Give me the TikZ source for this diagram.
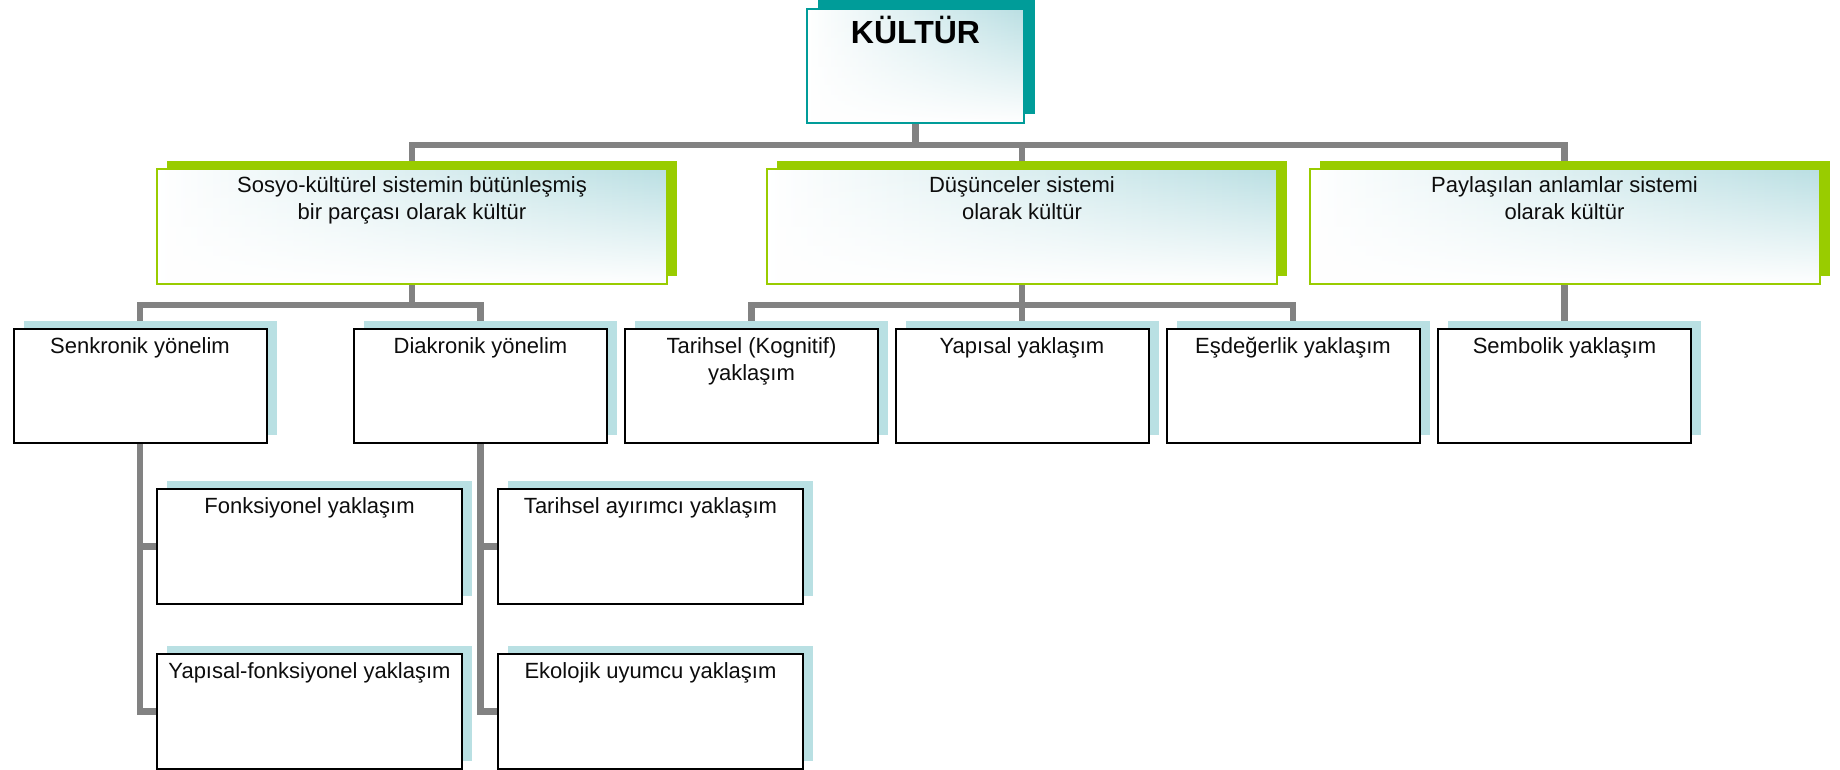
\documentclass[tikz,border=0pt]{standalone}
\usepackage{fontspec}
\setmainfont{Liberation Sans}
\usetikzlibrary{shadows,fadings}

\definecolor{connGray}{RGB}{130,130,130}
\definecolor{tealDark}{RGB}{0,156,153}
\definecolor{leafGreen}{RGB}{153,204,0}
\definecolor{paleBlue}{RGB}{185,224,227}
\definecolor{gradTeal}{RGB}{186,223,227}

% white wash that is clear at the top and solid at the bottom
\tikzfading[name=washup, top color=transparent!100, middle color=transparent!55, bottom color=transparent!0]

\pgfdeclarelayer{background}
\pgfsetlayers{background,main}

\begin{document}
\begin{tikzpicture}[x=1pt, y=-1pt,
  conn/.style={draw=connGray, line width=6.5pt, line join=miter},
  boxbase/.style={rectangle, anchor=north west, inner sep=0pt, line width=2pt},
  topbox/.style={boxbase, draw=tealDark, minimum width=217pt, minimum height=114pt,
    left color=white, right color=gradTeal,
    general shadow={fill=tealDark, shadow xshift=11pt, shadow yshift=9pt},
    postaction={fill=white, path fading=washup},
    postaction={draw=tealDark, line width=2pt}},
  midbox/.style={boxbase, draw=leafGreen, minimum width=510pt, minimum height=115pt,
    left color=white, right color=gradTeal,
    general shadow={fill=leafGreen, shadow xshift=10pt, shadow yshift=8pt},
    postaction={fill=white, path fading=washup},
    postaction={draw=leafGreen, line width=2pt}},
  lowbox/.style={boxbase, draw=black, fill=white, minimum width=253pt, minimum height=114pt,
    general shadow={fill=paleBlue, shadow xshift=10pt, shadow yshift=8pt}},
  leafbox/.style={lowbox, minimum width=305pt, minimum height=115pt},
  txt/.style={font=\fontsize{22}{27}\selectfont, align=center, anchor=base, inner sep=0pt, text=black!95},
  ttl/.style={font=\fontsize{32}{38}\selectfont\bfseries, anchor=base, inner sep=0pt, text=black}
]
\useasboundingbox (0,0) rectangle (1840,769);

% top level
\node[topbox] (k) at (806,8) {};
\node[ttl] (kt) at ([yshift=-35pt]k.north) {KÜLTÜR};

% second level (two-line texts sit on the baseline of their last line)
\node[midbox] (s1) at (156,168) {};
\node[txt] (s1t) at ([yshift=-51pt]s1.north) {Sosyo-kültürel sistemin bütünleşmiş\\bir parçası olarak kültür};
\node[midbox] (s2) at (766,168) {};
\node[txt] (s2t) at ([yshift=-51pt]s2.north) {Düşünceler sistemi\\olarak kültür};
\node[midbox] (s3) at (1308.5,168) {};
\node[txt] (s3t) at ([yshift=-51pt]s3.north) {Paylaşılan anlamlar sistemi\\olarak kültür};

% third level
\node[lowbox] (c1) at (12.5,328) {};
\node[txt] (c1t) at ([yshift=-25pt]c1.north) {Senkronik yönelim};
\node[lowbox] (c2) at (353,328) {};
\node[txt] (c2t) at ([yshift=-25pt]c2.north) {Diakronik yönelim};
\node[lowbox] (c3) at (624,328) {};
\node[txt] (c3t) at ([yshift=-52pt]c3.north) {Tarihsel (Kognitif)\\yaklaşım};
\node[lowbox] (c4) at (894.5,328) {};
\node[txt] (c4t) at ([yshift=-25pt]c4.north) {Yapısal yaklaşım};
\node[lowbox] (c5) at (1165.5,328) {};
\node[txt] (c5t) at ([yshift=-25pt]c5.north) {Eşdeğerlik yaklaşım};
\node[lowbox] (c6) at (1437,328) {};
\node[txt] (c6t) at ([yshift=-25pt]c6.north) {Sembolik yaklaşım};

% fourth level
\node[leafbox] (d1) at (156,488) {};
\node[txt] (d1t) at ([yshift=-25pt]d1.north) {Fonksiyonel yaklaşım};
\node[leafbox] (d2) at (156,653) {};
\node[txt] (d2t) at ([yshift=-25pt]d2.north) {Yapısal-fonksiyonel yaklaşım};
\node[leafbox] (d3) at (497,488) {};
\node[txt] (d3t) at ([yshift=-25pt]d3.north) {Tarihsel ayırımcı yaklaşım};
\node[leafbox] (d4) at (497,653) {};
\node[txt] (d4t) at ([yshift=-25pt]d4.north) {Ekolojik uyumcu yaklaşım};

% connectors behind the boxes
\begin{pgfonlayer}{background}
  \fill[white] (0,0) rectangle (1840,769);
  \coordinate (busA) at (0,145);
  \coordinate (busB) at (0,305);
  \draw[conn] (k.south) -- (k.south |- busA);
  \draw[conn] (s1.north) -- (s1.north |- busA) -- (s3.north |- busA) -- (s3.north);
  \draw[conn] (s2.north) -- (s2.north |- busA);
  \draw[conn] (s1.south) -- (s1.south |- busB);
  \draw[conn] (c1.north) -- (c1.north |- busB) -- (c2.north |- busB) -- (c2.north);
  \draw[conn] (s2.south) -- (s2.south |- busB);
  \draw[conn] (c3.north) -- (c3.north |- busB) -- (c5.north |- busB) -- (c5.north);
  \draw[conn] (c4.north) -- (c4.north |- busB);
  \draw[conn] (s3.south) -- (c6.north);
  \draw[conn] (c1.south) |- (d2.west);
  \draw[conn] (d1.west -| c1.south) -- (d1.west);
  \draw[conn] (c2.south) |- (d4.west);
  \draw[conn] (d3.west -| c2.south) -- (d3.west);
\end{pgfonlayer}
\end{tikzpicture}
\end{document}
